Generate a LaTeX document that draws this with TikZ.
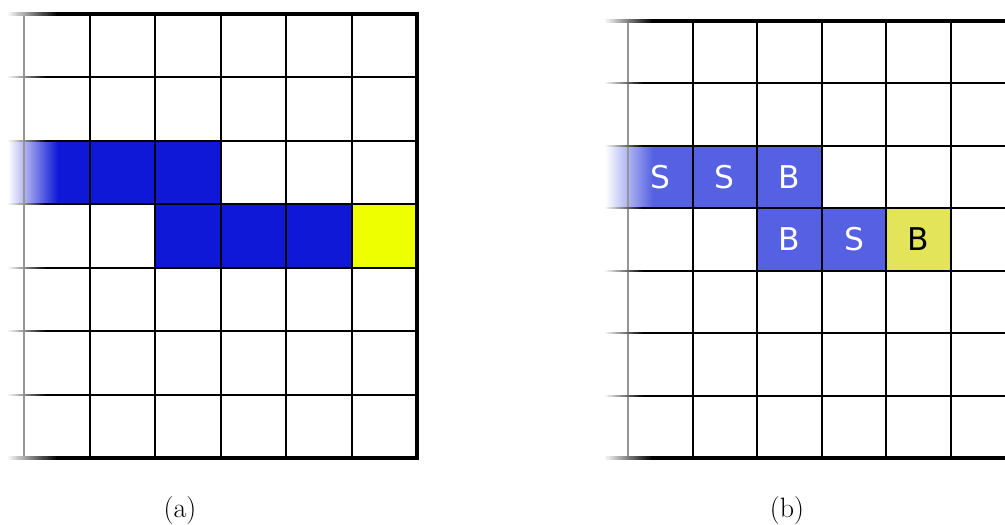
\documentclass[tikz,border=0pt]{standalone}
\usepackage{fontspec}
\newfontfamily\cellfont{DejaVu Sans}
\definecolor{bluea}{RGB}{14,24,214}
\definecolor{yellowa}{RGB}{238,255,0}
\definecolor{blueb}{RGB}{85,96,227}
\definecolor{yellowb}{RGB}{228,228,90}
\definecolor{leftgray}{RGB}{150,150,150}
% #1 start x, #2 end x, #3 y, #4 line width
\newcommand\fadeline[4]{%
  \foreach \k in {1,...,24}{%
    \pgfmathsetmacro\xa{#1+(#2-#1)*(\k-1)/24}%
    \pgfmathsetmacro\xb{#1+(#2-#1)*(\k)/24+0.004}%
    \pgfmathsetmacro\pc{int(100*\k/24)}%
    \draw[line width=#4, black!\pc] (\xa,#3) -- (\xb,#3);
  }}
\begin{document}
\begin{tikzpicture}[x=0.75pt,y=-0.75pt,
  gridline/.style={line width=1.5pt, black},
  leftline/.style={line width=1.5pt, leftgray},
  borderline/.style={line width=3pt, black},
  cellout/.style={draw=blue!40!black, line width=0.8pt},
  celltext/.style={font=\cellfont\fontsize{23.5}{28}\selectfont, text=white},
  caption/.style={font=\fontsize{21}{25}\selectfont, anchor=base}]
\useasboundingbox (0,0) rectangle (1005,524);
\clip (0,0) rectangle (1005,524);
\fill[white] (0,0) rectangle (1005,524);

% ---------------- panel (a) ----------------
\begin{scope}[xshift=18pt, yshift=-10.5pt, x=49.125pt, y=-47.57pt]
  \def\fs{-0.244}
  % cells
  \shade[left color=white, right color=bluea] (\fs,2) rectangle (0.52,3);
  \fill[bluea] (0.52,2) rectangle (3,3);
  \fill[bluea, cellout] (1,2) rectangle (2,3);
  \fill[bluea, cellout] (2,2) rectangle (3,3);
  \fill[bluea, cellout] (2,3) rectangle (3,4);
  \fill[bluea, cellout] (3,3) rectangle (4,4);
  \fill[bluea, cellout] (4,3) rectangle (5,4);
  \fill[yellowa, draw=yellowa!60!black, line width=0.8pt] (5,3) rectangle (6,4);
  % grid
  \foreach \i in {1,...,5} \draw[gridline] (\i,0) -- (\i,7);
  \draw[leftline] (0,0) -- (0,7);
  \foreach \j in {1,...,6} {
    \fadeline{\fs}{0.35}{\j}{1.5pt}
    \draw[gridline] (0.35,\j) -- (6,\j);
  }
  \foreach \j in {0,7} {
    \fadeline{\fs}{0.52}{\j}{3pt}
    \draw[borderline] (0.52,\j) -- (6,\j);
  }
  \draw[borderline] ([yshift=1.5pt]6,0) -- ([yshift=-1.5pt]6,7);
\end{scope}

% ---------------- panel (b) ----------------
\begin{scope}[xshift=471pt, yshift=-15.75pt, x=48.45pt, y=-46.82pt]
  \def\fs{-0.356}
  \shade[left color=white, right color=blueb] (\fs,2) rectangle (0.387,3);
  \fill[blueb] (0.387,2) rectangle (3,3);
  \fill[blueb, cellout] (1,2) rectangle (2,3);
  \fill[blueb, cellout] (2,2) rectangle (3,3);
  \fill[blueb, cellout] (2,3) rectangle (3,4);
  \fill[blueb, cellout] (3,3) rectangle (4,4);
  \fill[yellowb, draw=yellowb!50!black, line width=0.8pt] (4,3) rectangle (5,4);
  % grid
  \foreach \i in {1,...,6} \draw[gridline] (\i,0) -- (\i,7);
  \draw[leftline] (0,0) -- (0,7);
  \foreach \j in {1,...,6} {
    \fadeline{\fs}{0.25}{\j}{1.5pt}
    \draw[gridline] (0.25,\j) -- (6.5,\j);
  }
  \foreach \j in {0,7} {
    \fadeline{\fs}{0.387}{\j}{3pt}
    \draw[borderline] (0.387,\j) -- (6.5,\j);
  }
  % texts
  \node[celltext] (s1) at (0.5,2.5) {S};
  \node[celltext] (s2) at (1.5,2.5) {S};
  \node[celltext] (b1) at (2.5,2.5) {B};
  \node[celltext] (b2) at (2.5,3.5) {B};
  \node[celltext] (s3) at (3.5,3.5) {S};
  \node[celltext, text=black] (b3) at (4.5,3.5) {B};
\end{scope}

% captions
\node[caption] (capa) at (180,517.5) {(a)};
\node[caption] (capb) at (787,517.5) {(b)};
\end{tikzpicture}
\end{document}
